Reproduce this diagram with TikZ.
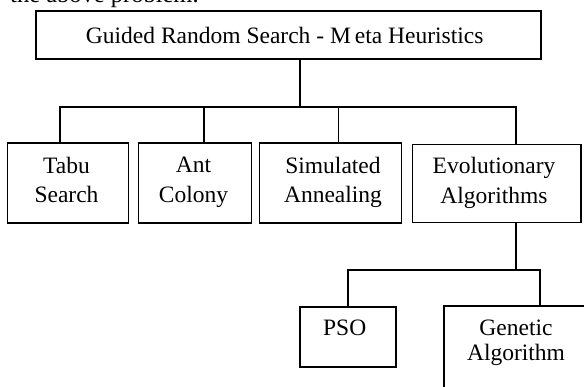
\documentclass[tikz,border=0pt]{standalone}
\usepackage{fontspec}
\setmainfont{Liberation Serif}
\begin{document}
\begin{tikzpicture}[x=1pt,y=-1pt,
  box/.style={draw, line width=1.5pt, inner sep=0pt, rectangle},
  txt/.style={inner sep=0pt, align=center, font=\fontsize{23.5}{29.5}\selectfont},
  link/.style={line width=1.5pt}]
\useasboundingbox (0,0) rectangle (584,387);
\clip (0,0) rectangle (584,387);
% cut-off text line above the figure
\node[txt, anchor=base west, font=\fontsize{24.5}{29}\selectfont] (prev) at (10,3) {the above problem.};
% boxes
\node[box, minimum width=505pt, minimum height=48pt] (top) at (288.5,35) {};
\node[txt, anchor=base] (toptxt) at (284.7,43.3) {Guided Random Search - M\hspace{0.17em}eta Heuristics};
\node[box, minimum width=120.6pt, minimum height=80pt] (tabu) at (68,183) {};
\node[txt, anchor=north] (tabutxt) at (66.5,156.7) {Tabu\\Search};
\node[box, minimum width=113.4pt, minimum height=80pt] (ant) at (195,183) {};
\node[txt, anchor=north] (anttxt) at (193.5,157) {Ant\\Colony};
\node[box, minimum width=142.2pt, minimum height=80pt] (sim) at (330.6,183) {};
\node[txt, anchor=north] (simtxt) at (333,156.7) {Simulated\\Annealing};
\node[box, minimum width=168.7pt, minimum height=78pt] (evo) at (496.7,183.7) {};
\node[txt, anchor=north] (evotxt) at (494,157) {Evolutionary\\Algorithms};
\node[box, minimum width=96pt, minimum height=60pt] (pso) at (348,337) {};
\node[txt, anchor=base] (psotxt) at (344.7,336) {PSO};
\node[box, minimum width=144pt, minimum height=88pt] (gen) at (516,350) {};
\node[txt, anchor=north, font=\fontsize{23.5}{25}\selectfont] (gentxt) at (516,320) {Genetic\\Algorithm};
% connectors
\coordinate (j0) at (300,107);
\coordinate (bl) at (60,107);
\coordinate (ba) at (204,107);
\coordinate (bs) at (338.3,107);
\coordinate (br) at (516,107);
\draw[link] (top.south -| j0) -- (j0);
\draw[link] (bl |- tabu.north) -- (bl) -- (br) -- (br |- evo.north);
\draw[link] (ba) -- (ba |- ant.north);
\draw[link] (bs) -- (bs |- sim.north);
\coordinate (j1) at (516,270);
\coordinate (cl) at (348,270);
\coordinate (cr) at (540,270);
\draw[link] (evo.south -| j1) -- (j1);
\draw[link] (pso.north) -- (cl) -- (cr) -- (cr |- gen.north);
\end{tikzpicture}
\end{document}
